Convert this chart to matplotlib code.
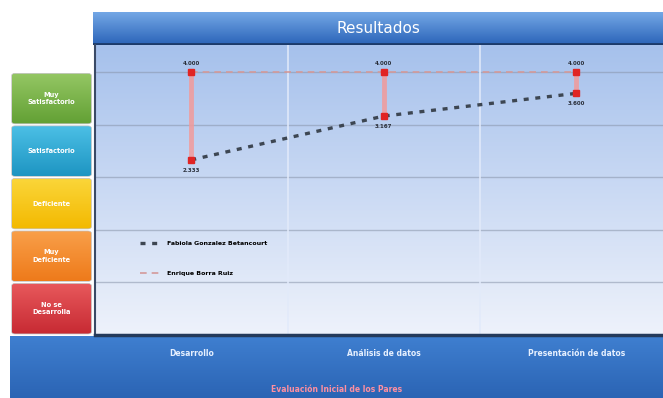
import matplotlib.pyplot as plt
import numpy as np
from matplotlib.colors import LinearSegmentedColormap
from matplotlib.patches import FancyBboxPatch

# evaluation data
categories = ['Desarrollo', 'Análisis de datos', 'Presentación de datos']
fabiola = [2.333, 3.167, 3.600]
enrique = [4.000, 4.000, 4.000]
series_names = ['Fabiola Gonzalez Betancourt', 'Enrique Borra Ruiz']
levels = ['No se\nDesarrolla', 'Muy\nDeficiente', 'Deficiente', 'Satisfactorio', 'Muy\nSatisfactorio']
level_colors = [('#e8595c', '#c72a33'), ('#f9a04a', '#ee7a1a'), ('#fbd63a', '#f3b900'),
                ('#4cc0e6', '#1e95c2'), ('#95c764', '#62a034')]

W, H = 663, 398
fig = plt.figure(figsize=(W / 100, H / 100), dpi=100)
fig.patch.set_facecolor('white')


def box(x0, y0, x1, y1):
    # pixel box (top-left origin) -> figure fraction rect
    return [x0 / W, 1 - y1 / H, (x1 - x0) / W, (y1 - y0) / H]


def gradient(ax, top, bottom, extent=(0, 1, 0, 1), clip=None, z=0):
    cmap = LinearSegmentedColormap.from_list('g', [bottom, top])
    g = np.linspace(0, 1, 256).reshape(-1, 1)
    im = ax.imshow(g, aspect='auto', cmap=cmap, origin='lower',
                   extent=extent, zorder=z, interpolation='bicubic')
    if clip is not None:
        im.set_clip_path(clip)
    return im


ylo, yhi = -1.0, 4.52

# header bar
axh = fig.add_axes(box(93, 12, 663, 45))
gradient(axh, '#74a8e6', '#2a63b8')
axh.axhline(0.02, color='#1b3a6a', lw=2)
axh.text(0.5, 0.5, 'Resultados', color='white', fontsize=11, ha='center', va='center')
axh.set_xlim(0, 1); axh.set_ylim(0, 1); axh.axis('off')

# footer bar
axf = fig.add_axes(box(10, 336, 663, 398))
gradient(axf, '#3f7fd0', '#2b64b4')
axf.set_xlim(0, 1); axf.set_ylim(0, 1); axf.axis('off')
axf.text(0.5, 0.13, 'Evaluación Inicial de los Pares', color='#ff8fa0',
         fontsize=5.5, fontweight='bold', ha='center', va='center')

# main plot
ax = fig.add_axes(box(95, 45, 663, 335))
ax.set_xlim(-0.5, 2.45)
ax.set_ylim(ylo, yhi)
gradient(ax, '#a6c1ec', '#eef2fb', extent=(-0.5, 2.45, ylo, yhi), z=0)
for yv in range(0, 5):
    ax.axhline(yv, color='#8894aa', lw=1.0, alpha=0.55, zorder=1)
for xv in [0.5, 1.5]:
    ax.axvline(xv, color='#e2eafa', lw=1.4, alpha=0.8, zorder=1)

x = np.arange(len(categories))
for xi, lo, hi in zip(x, fabiola, enrique):
    ax.plot([xi, xi], [lo, hi], color='#f29a9a', lw=3.5, alpha=0.85, zorder=2,
            solid_capstyle='butt')
    ax.text(xi, hi + 0.17, f'{hi:.3f}', fontsize=4, fontweight='bold',
            color='#2a2f3a', ha='center', va='center', zorder=5)
    ax.text(xi, lo - 0.2, f'{lo:.3f}', fontsize=4, fontweight='bold',
            color='#2a2f3a', ha='center', va='center', zorder=5)

l1, = ax.plot(x, fabiola, color='#3d4652', lw=2.4, dashes=(1.5, 2.0), zorder=3,
              label=series_names[0])
l2, = ax.plot(x, enrique, color='#d49a9a', lw=1.2, dashes=(4, 3), zorder=3,
              label=series_names[1])
ax.plot(x, fabiola, 's', color='#e02424', ms=4, zorder=4)
ax.plot(x, enrique, 's', color='#e02424', ms=4, zorder=4)

ax.legend(handles=[l1, l2], loc='upper left', bbox_to_anchor=(0.07, 0.345),
          frameon=False, prop={'size': 4.5, 'weight': 'bold'},
          handlelength=3.5, labelspacing=3.9)

ax.set_xticks([]); ax.set_yticks([])
for s in ['top', 'right']:
    ax.spines[s].set_visible(False)
ax.spines['bottom'].set_color('#243a5a')
ax.spines['bottom'].set_linewidth(2.5)
ax.spines['left'].set_color('#3a4a66')
ax.spines['left'].set_linewidth(1.5)

for xi, c in zip(x, categories):
    fig.text((95 + (xi + 0.5) / 2.95 * 568) / W, 1 - 354 / H, c, color='#e6f0ff',
             fontsize=5.5, fontweight='bold', ha='center', va='center')

# level boxes on the left
axl = fig.add_axes(box(10, 45, 93, 335))
axl.set_xlim(0, 1); axl.set_ylim(ylo, yhi); axl.axis('off')
for i, (lab, (top, bot)) in enumerate(zip(levels, level_colors)):
    y0 = i - 1
    p = FancyBboxPatch((0.02, y0 + 0.02), 0.96, 0.96,
                       boxstyle='round,pad=0,rounding_size=0.04',
                       fc='none', ec='#c0c0c0', lw=0.5, zorder=3,
                       mutation_aspect=1)
    axl.add_patch(p)
    gradient(axl, top, bot, extent=(0.02, 0.98, y0 + 0.02, y0 + 0.98), clip=p, z=2)
    axl.text(0.5, y0 + 0.5, lab, color='white', fontsize=4.8, fontweight='bold',
             ha='center', va='center', zorder=4, linespacing=1.3)
axl.set_ylim(ylo, yhi)

fig.savefig('out.png', dpi=100)
